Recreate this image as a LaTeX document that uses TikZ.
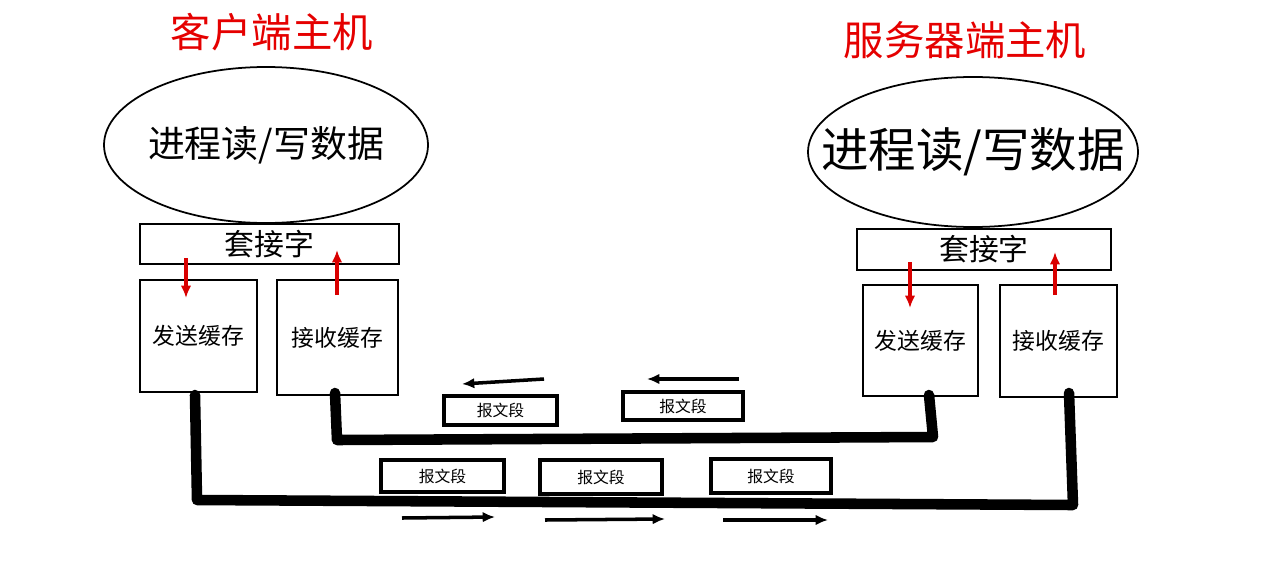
\documentclass[tikz,border=0pt]{standalone}
\usepackage{fontspec}
\setmainfont{Noto Sans CJK SC}
\usetikzlibrary{shapes.geometric,arrows.meta}
\begin{document}
\begin{tikzpicture}[x=0.02cm,y=-0.02cm,
  box/.style={draw,line width=1pt,inner sep=0pt},
  pkt/.style={draw,line width=2.5pt,inner sep=0pt,font=\fontsize{9}{10}\selectfont},
  wire/.style={line width=6pt,line cap=round,line join=round},
  redarr/.style={draw=red!85!black,line width=2pt,-{Latex[length=7pt,width=6pt]}},
  blk/.style={line width=2pt,-{Latex[length=7pt,width=6pt]}},
  title/.style={text=red!90!black,font=\fontsize{23}{26}\selectfont}]
\useasboundingbox (0,0) rectangle (1283,568);
\node[title] (t1) at (272,32) {客户端主机};
\node[title] (t2) at (965,40) {服务器端主机};
\node[draw,line width=1pt,ellipse,minimum width=324*0.02cm,minimum height=156*0.02cm] (e1) at (266,145) {};
\node[font=\fontsize{21}{24}\selectfont] at (e1) {进程读/写数据};
\node[draw,line width=1pt,ellipse,minimum width=330*0.02cm,minimum height=150*0.02cm] (e2) at (973,152) {};
\node[font=\fontsize{27}{30}\selectfont] at (e2) {进程读/写数据};
\node[box,minimum width=259*0.02cm,minimum height=40*0.02cm,font=\fontsize{17}{20}\selectfont] (s1) at (269.5,244) {套接字};
\node[box,minimum width=254*0.02cm,minimum height=41*0.02cm,font=\fontsize{17}{20}\selectfont] (s2) at (984,249.5) {套接字};
\node[box,minimum width=117*0.02cm,minimum height=112*0.02cm,font=\fontsize{13}{15}\selectfont] (ls) at (198.5,336) {发送缓存};
\node[box,minimum width=121*0.02cm,minimum height=115*0.02cm,font=\fontsize{13}{15}\selectfont] (lr) at (337.5,337.5) {接收缓存};
\node[box,minimum width=115*0.02cm,minimum height=111*0.02cm,font=\fontsize{13}{15}\selectfont] (rs) at (920.5,340.5) {发送缓存};
\node[box,minimum width=117*0.02cm,minimum height=112*0.02cm,font=\fontsize{13}{15}\selectfont] (rr) at (1058.5,341) {接收缓存};
\draw[redarr] (186,258) -- (186,298);
\draw[redarr] (337,295) -- (337,250);
\draw[redarr] (910,262) -- (910,308);
\draw[redarr] (1055,295) -- (1055,252);
\coordinate (a1) at (195,395); \coordinate (a2) at (197,500); \coordinate (a3) at (1073,505); \coordinate (a4) at (1069,393);
\draw[wire] (a1) -- (a2) -- (a3) -- (a4);
\coordinate (b1) at (335,393); \coordinate (b2) at (337,440); \coordinate (b3) at (933,437); \coordinate (b4) at (929,395);
\draw[wire] (b1) -- (b2) -- (b3) -- (b4);
\node[pkt,minimum width=113*0.02cm,minimum height=29*0.02cm,fill=white] (p1) at (500.5,410.5) {报文段};
\node[pkt,minimum width=120*0.02cm,minimum height=28*0.02cm,fill=white] (p2) at (683,406) {报文段};
\node[pkt,minimum width=123*0.02cm,minimum height=32*0.02cm,fill=white] (p3) at (442.5,476) {报文段};
\node[pkt,minimum width=122*0.02cm,minimum height=34*0.02cm,fill=white] (p4) at (601,477) {报文段};
\node[pkt,minimum width=120*0.02cm,minimum height=34*0.02cm,fill=white] (p5) at (771,476) {报文段};
\coordinate (c1) at (544,379); \coordinate (c2) at (462,384);
\draw[blk] (c1) -- (c2);
\coordinate (c3) at (739,379); \coordinate (c4) at (647,379);
\draw[blk] (c3) -- (c4);
\coordinate (d1) at (402,518); \coordinate (d2) at (495,517);
\draw[blk] (d1) -- (d2);
\coordinate (d3) at (545,520); \coordinate (d4) at (665,519);
\draw[blk] (d3) -- (d4);
\coordinate (d5) at (723,520); \coordinate (d6) at (828,520);
\draw[blk] (d5) -- (d6);
\end{tikzpicture}
\end{document}
